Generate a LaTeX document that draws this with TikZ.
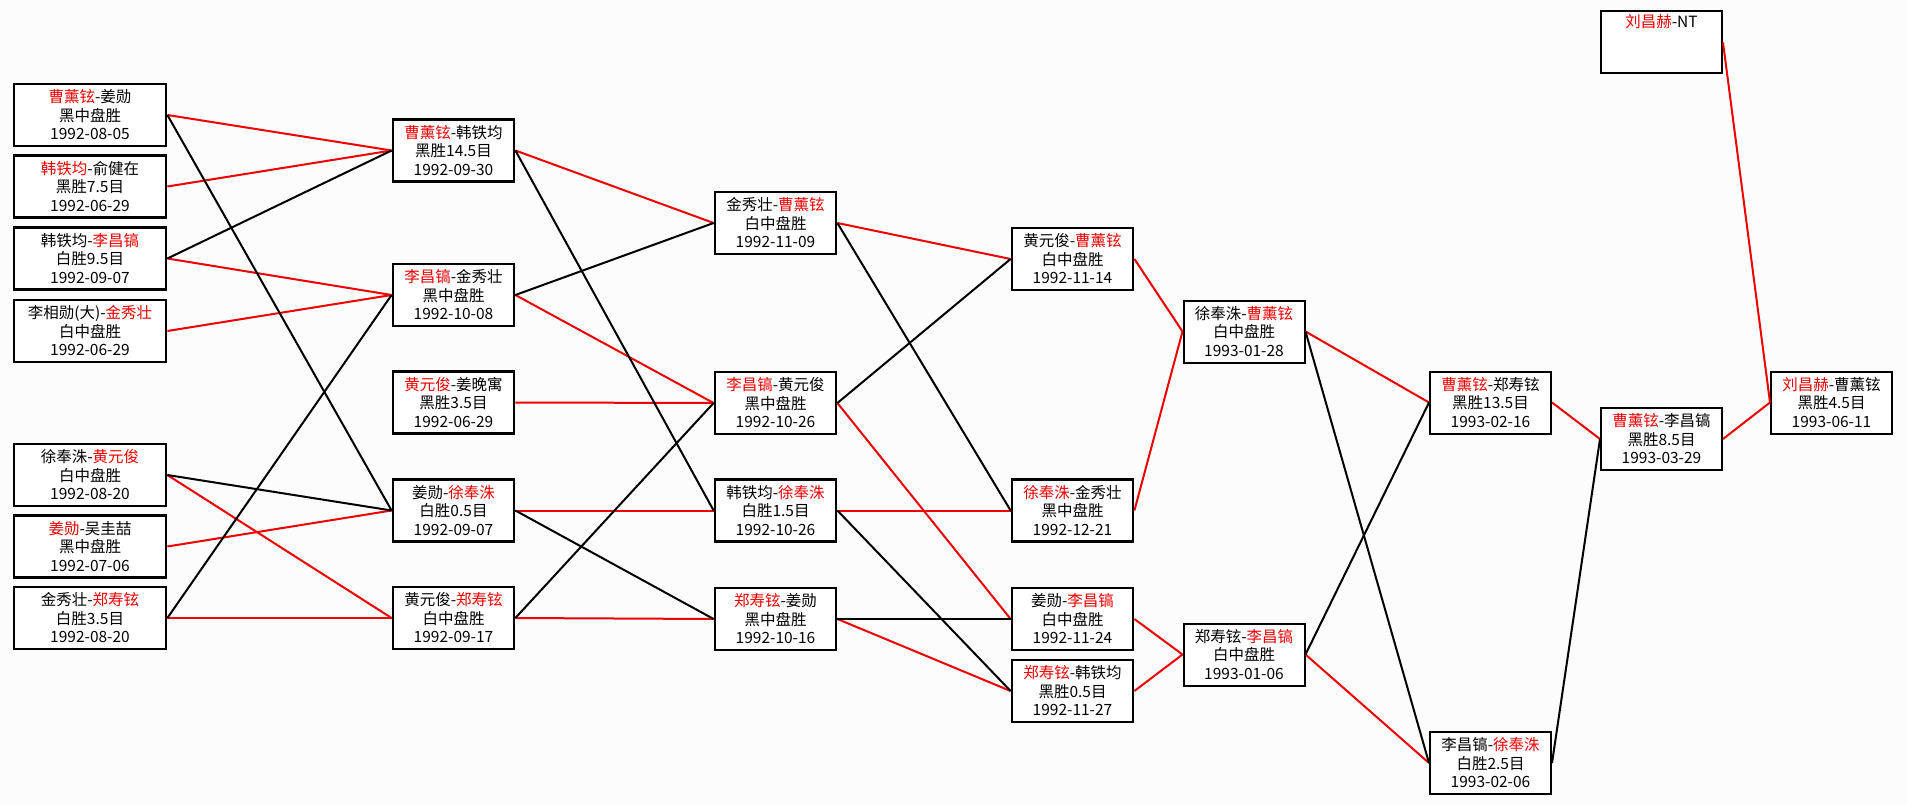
\documentclass[tikz,border=0pt]{standalone}
\usepackage{fontspec}
\setmainfont{Noto Sans CJK SC}
\definecolor{wred}{RGB}{238,0,0}
\definecolor{bgc}{RGB}{252,252,252}
\newcommand{\winr}[1]{\textcolor{wred}{#1}}

\begin{document}
\begin{tikzpicture}[x=1pt, y=-1pt,
		bx/.style={rectangle, draw=black, fill=white, line width=2.8pt, minimum width=121, minimum height=62, inner sep=0pt, align=center, font={\fontsize{15.5}{18.5}\selectfont}},
		bxw/.style={bx, minimum width=152},
		bxt/.style={bx, line width=2pt},
		rw/.style = {draw=wred, line width=2pt},
		bl/.style = {draw=black, line width=2pt}
		]
		\fill[bgc] (0,0) rectangle (1907,805);
		\useasboundingbox (0,0) rectangle (1907,805);
		
		%Nodes
		\node[bxw]	(a1)	at (90, 115)		{\winr{曹薰铉}-姜勋\\黑中盘胜\\1992-08-05};
		\node[bxw]	(a2)	at (90, 186.5)		{\winr{韩铁均}-俞健在\\黑胜7.5目\\1992-06-29};
		\node[bxw]	(a3)	at (90, 258.5)		{韩铁均-\winr{李昌镐}\\白胜9.5目\\1992-09-07};
		\node[bxw]	(a4)	at (90, 331)		{李相勋(大)-\winr{金秀壮}\\白中盘胜\\1992-06-29};
		\node[bxw]	(a5)	at (90, 475)		{徐奉洙-\winr{黄元俊}\\白中盘胜\\1992-08-20};
		\node[bxw]	(a6)	at (90, 546.5)		{\winr{姜勋}-吴圭喆\\黑中盘胜\\1992-07-06};
		\node[bxw]	(a7)	at (90, 618)		{金秀壮-\winr{郑寿铉}\\白胜3.5目\\1992-08-20};
		
		\node[bx]	(b1)	at (453.5, 150.5)	{\winr{曹薰铉}-韩铁均\\黑胜14.5目\\1992-09-30};
		\node[bx]	(b2)	at (453.5, 295)		{\winr{李昌镐}-金秀壮\\黑中盘胜\\1992-10-08};
		\node[bx]	(b3)	at (453.5, 402.5)	{\winr{黄元俊}-姜晚寓\\黑胜3.5目\\1992-06-29};
		\node[bx]	(b4)	at (453.5, 510.5)	{姜勋-\winr{徐奉洙}\\白胜0.5目\\1992-09-07};
		\node[bx]	(b5)	at (453.5, 618)		{黄元俊-\winr{郑寿铉}\\白中盘胜\\1992-09-17};
		
		\node[bx]	(c1)	at (775.5, 223)		{金秀壮-\winr{曹薰铉}\\白中盘胜\\1992-11-09};
		\node[bx]	(c2)	at (775.5, 403)		{\winr{李昌镐}-黄元俊\\黑中盘胜\\1992-10-26};
		\node[bx]	(c3)	at (775.5, 510.5)	{韩铁均-\winr{徐奉洙}\\白胜1.5目\\1992-10-26};
		\node[bx]	(c4)	at (775.5, 619)		{\winr{郑寿铉}-姜勋\\黑中盘胜\\1992-10-16};
		
		\node[bx]	(d1)	at (1072.5, 259)	{黄元俊-\winr{曹薰铉}\\白中盘胜\\1992-11-14};
		\node[bx]	(d2)	at (1072.5, 510.5)	{\winr{徐奉洙}-金秀壮\\黑中盘胜\\1992-12-21};
		\node[bx]	(d3)	at (1072.5, 619)	{姜勋-\winr{李昌镐}\\白中盘胜\\1992-11-24};
		\node[bx]	(d4)	at (1072.5, 691)	{\winr{郑寿铉}-韩铁均\\黑胜0.5目\\1992-11-27};
		
		\node[bxt]	(e1)	at (1244, 331.5)	{徐奉洙-\winr{曹薰铉}\\白中盘胜\\1993-01-28};
		\node[bxt]	(e2)	at (1244, 654.5)	{郑寿铉-\winr{李昌镐}\\白中盘胜\\1993-01-06};
		
		\node[bxt]	(f1)	at (1490.5, 402.5)	{\winr{曹薰铉}-郑寿铉\\黑胜13.5目\\1993-02-16};
		\node[bxt]	(f2)	at (1490.5, 763)	{李昌镐-\winr{徐奉洙}\\白胜2.5目\\1993-02-06};
		
		\node[bxt]	(g1)	at (1661.5, 439)	{\winr{曹薰铉}-李昌镐\\黑胜8.5目\\1993-03-29};
		\node[bxt]	(t1)	at (1661.5, 42.5)	{\winr{刘昌赫}-NT\\\strut\\\strut};
		\node[bxt]	(h1)	at (1831.5, 402.5)	{\winr{刘昌赫}-曹薰铉\\黑胜4.5目\\1993-06-11};
		
		%Lines
		\draw[rw] (a1.east) to (b1.west);
		\draw[rw] (a2.east) to (b1.west);
		\draw[rw] (a3.east) to (b2.west);
		\draw[rw] (a4.east) to (b2.west);
		\draw[rw] (a5.east) to (b5.west);
		\draw[rw] (a6.east) to (b4.west);
		\draw[rw] (a7.east) to (b5.west);
		\draw[bl] (a1.east) to (b4.west);
		\draw[bl] (a3.east) to (b1.west);
		\draw[bl] (a5.east) to (b4.west);
		\draw[bl] (a7.east) to (b2.west);
		
		\draw[rw] (b1.east) to (c1.west);
		\draw[rw] (b2.east) to (c2.west);
		\draw[rw] (b3.east) to (c2.west);
		\draw[rw] (b4.east) to (c3.west);
		\draw[rw] (b5.east) to (c4.west);
		\draw[bl] (b1.east) to (c3.west);
		\draw[bl] (b2.east) to (c1.west);
		\draw[bl] (b4.east) to (c4.west);
		\draw[bl] (b5.east) to (c2.west);
		
		\draw[rw] (c1.east) to (d1.west);
		\draw[rw] (c2.east) to (d3.west);
		\draw[rw] (c3.east) to (d2.west);
		\draw[rw] (c4.east) to (d4.west);
		\draw[bl] (c1.east) to (d2.west);
		\draw[bl] (c2.east) to (d1.west);
		\draw[bl] (c3.east) to (d4.west);
		\draw[bl] (c4.east) to (d3.west);
		
		\draw[rw] (d1.east) to (e1.west);
		\draw[rw] (d2.east) to (e1.west);
		\draw[rw] (d3.east) to (e2.west);
		\draw[rw] (d4.east) to (e2.west);
		
		\draw[rw] (e1.east) to (f1.west);
		\draw[rw] (e2.east) to (f2.west);
		\draw[bl] (e1.east) to (f2.west);
		\draw[bl] (e2.east) to (f1.west);
		
		\draw[rw] (f1.east) to (g1.west);
		\draw[bl] (f2.east) to (g1.west);
		\draw[rw] (g1.east) to (h1.west);
		\draw[rw] (t1.east) to (h1.west);
		
	\end{tikzpicture}
\end{document}
